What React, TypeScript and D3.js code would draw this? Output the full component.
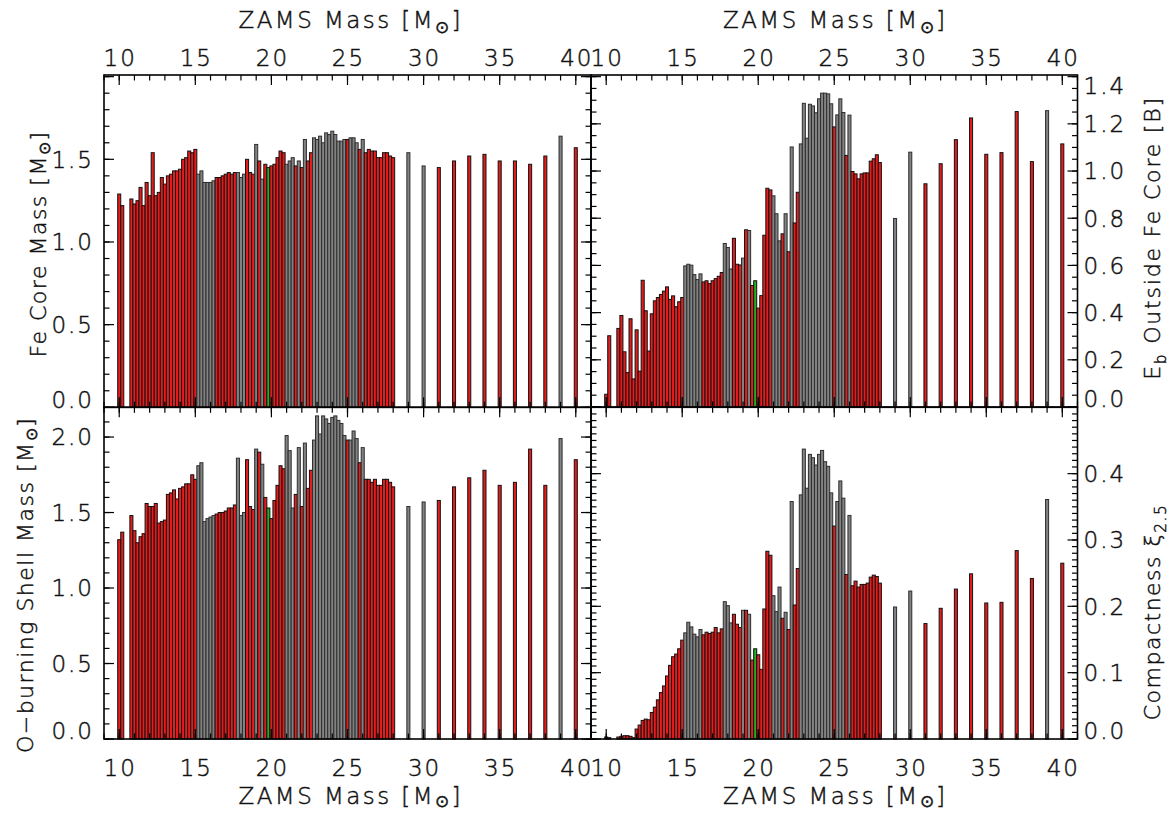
import React from 'react';
import * as d3 from 'd3';

// ZAMS masses of the models (Msun)
const masses = [
  10.0, 10.2, 10.8, 11.0, 11.2, 11.4, 11.6, 11.8, 12.0, 12.2, 12.4, 12.6, 12.8, 13.0, 13.2, 13.4, 13.6, 13.8,
  14.0, 14.2, 14.4, 14.6, 14.8, 15.0, 15.2, 15.4, 15.6, 15.8, 16.0, 16.2, 16.4, 16.6, 16.8, 17.0, 17.2, 17.4,
  17.6, 17.8, 18.0, 18.2, 18.4, 18.6, 18.8, 19.0, 19.2, 19.4, 19.6, 19.8, 20.0, 20.2, 20.4, 20.6, 20.8, 21.0,
  21.2, 21.4, 21.6, 21.8, 22.0, 22.2, 22.4, 22.6, 22.8, 23.0, 23.2, 23.4, 23.6, 23.8, 24.0, 24.2, 24.4, 24.6,
  24.8, 25.0, 25.2, 25.4, 25.6, 25.8, 26.0, 26.2, 26.4, 26.6, 26.8, 27.0, 27.2, 27.4, 27.6, 27.8, 28.0,
  29, 30, 31, 32, 33, 34, 35, 36, 37, 38, 39, 40,
];

// outcome per model: E = explodes (red), B = black hole (gray), S = special (green)
const outcome = (
  'EE' + 'EEEEEEEEEEEEEEEEEEEEEE' + 'BBBBBB' + 'EEEEEEE' + 'BBB' + 'EEE' + 'B' + 'E' + 'B' + 'E' + 'S' +
  'EEEEE' + 'BBB' + 'E' + 'B' + 'E' + 'B' + 'EE' + 'BBBBBBBBBBB' + 'E' + 'BBB' + 'E' + 'B' + 'EEEEEEEEEE' +
  'BB' + 'EEEEEEEE' + 'B' + 'E'
).split('');

// Fe core mass [Msun]
const feCoreMass = [
  1.29, 1.22, 1.26, 1.23, 1.25, 1.33, 1.22, 1.36, 1.28, 1.54, 1.28, 1.30, 1.39, 1.35, 1.40, 1.41, 1.43, 1.43,
  1.44, 1.50, 1.51, 1.55, 1.54, 1.56, 1.41, 1.43, 1.36, 1.36, 1.36, 1.37, 1.39, 1.39, 1.40, 1.41, 1.42, 1.41,
  1.42, 1.42, 1.39, 1.41, 1.50, 1.42, 1.41, 1.59, 1.49, 1.38, 1.47, 1.45, 1.46, 1.47, 1.51, 1.55, 1.54, 1.47,
  1.49, 1.51, 1.46, 1.49, 1.45, 1.62, 1.49, 1.54, 1.63, 1.62, 1.64, 1.60, 1.66, 1.65, 1.67, 1.65, 1.61, 1.61,
  1.62, 1.62, 1.63, 1.63, 1.60, 1.56, 1.62, 1.54, 1.56, 1.55, 1.55, 1.51, 1.51, 1.54, 1.54, 1.52, 1.51,
  1.54, 1.46, 1.45, 1.49, 1.52, 1.53, 1.49, 1.49, 1.47, 1.52, 1.64, 1.57,
];

// binding energy outside the Fe core [B]
const bindingEnergy = [
  0.054, 0.302, 0.333, 0.388, 0.234, 0.146, 0.374, 0.119, 0.327, 0.152, 0.537, 0.408, 0.237, 0.395, 0.450, 0.464, 0.477, 0.491,
  0.509, 0.456, 0.471, 0.425, 0.446, 0.464, 0.598, 0.605, 0.601, 0.561, 0.540, 0.564, 0.530, 0.535, 0.523, 0.535, 0.544, 0.554,
  0.570, 0.693, 0.676, 0.585, 0.715, 0.605, 0.602, 0.631, 0.751, 0.748, 0.515, 0.535, 0.419, 0.472, 0.728, 0.927, 0.920, 0.895,
  0.819, 0.704, 0.734, 0.819, 0.658, 1.102, 0.780, 0.910, 1.115, 1.287, 1.139, 1.283, 1.276, 1.247, 1.306, 1.330, 1.330, 1.327,
  1.285, 1.187, 1.238, 1.306, 1.248, 1.066, 1.237, 0.998, 0.988, 0.967, 0.988, 0.992, 0.992, 1.042, 1.052, 1.069, 1.036,
  0.799, 1.080, 0.946, 1.031, 1.133, 1.225, 1.071, 1.078, 1.252, 1.040, 1.256, 1.115,
];

// O-burning shell mass [Msun]
const oShellMass = [
  1.32, 1.37, 1.48, 1.38, 1.30, 1.34, 1.36, 1.56, 1.54, 1.54, 1.56, 1.43, 1.44, 1.45, 1.62, 1.63, 1.65, 1.59,
  1.66, 1.67, 1.69, 1.69, 1.75, 1.72, 1.81, 1.83, 1.44, 1.46, 1.47, 1.48, 1.49, 1.50, 1.50, 1.51, 1.53, 1.53,
  1.55, 1.86, 1.48, 1.50, 1.85, 1.54, 1.52, 1.92, 1.90, 1.82, 1.60, 1.53, 1.46, 1.58, 1.68, 1.81, 1.79, 2.01,
  1.91, 1.53, 1.62, 1.93, 1.54, 1.96, 1.66, 1.78, 1.98, 2.14, 2.02, 2.14, 2.12, 2.09, 2.13, 2.14, 2.11, 2.09,
  2.01, 1.98, 1.98, 2.04, 1.99, 1.83, 1.93, 1.72, 1.72, 1.70, 1.72, 1.68, 1.68, 1.72, 1.72, 1.70, 1.67,
  1.54, 1.57, 1.58, 1.67, 1.73, 1.78, 1.68, 1.70, 1.92, 1.68, 1.99, 1.85,
];

// compactness xi_2.5
const compactness = [
  0.003, 0.002, 0.003, 0.004, 0.005, 0.005, 0.004, 0.002, 0.015, 0.021, 0.028, 0.030, 0.029, 0.040, 0.048, 0.059, 0.070, 0.080,
  0.095, 0.111, 0.124, 0.128, 0.136, 0.149, 0.160, 0.176, 0.169, 0.158, 0.154, 0.165, 0.157, 0.161, 0.159, 0.161, 0.168, 0.160,
  0.166, 0.207, 0.201, 0.175, 0.188, 0.173, 0.168, 0.194, 0.194, 0.188, 0.119, 0.136, 0.127, 0.105, 0.196, 0.283, 0.277, 0.216,
  0.192, 0.229, 0.182, 0.191, 0.165, 0.358, 0.202, 0.257, 0.368, 0.437, 0.378, 0.429, 0.424, 0.413, 0.429, 0.435, 0.418, 0.411,
  0.371, 0.321, 0.358, 0.389, 0.363, 0.248, 0.337, 0.231, 0.238, 0.229, 0.233, 0.233, 0.235, 0.244, 0.247, 0.245, 0.235,
  0.199, 0.223, 0.174, 0.197, 0.226, 0.249, 0.205, 0.206, 0.284, 0.242, 0.361, 0.265,
];

const xTickLabels = [10, 15, 20, 25, 30, 35, 40];

const FONT = "'DejaVu Sans', 'Liberation Sans', sans-serif";
const FILL: Record<string, string> = { E: '#e81c1c', B: '#828282', S: '#22b022' };
const EDGE: Record<string, string> = { E: '#111', B: '#2e2e2e', S: '#111' };

type Spec = {
  key: string;
  left: number; right: number; top: number; bottom: number;
  yMax: number; yMajor: number; yMinor: number;
  yLabels: number[];
  ySide: 'left' | 'right';
  xSide: 'top' | 'bottom';
  values: number[];
};

const specs: Spec[] = [
  { key: 'fe', left: 104, right: 591, top: 75, bottom: 407.3, yMax: 2.01, yMajor: 0.5, yMinor: 0.1,
    yLabels: [0, 0.5, 1.0, 1.5], ySide: 'left', xSide: 'top', values: feCoreMass },
  { key: 'eb', left: 591, right: 1077.5, top: 75, bottom: 407, yMax: 1.407, yMajor: 0.2, yMinor: 0.05,
    yLabels: [0, 0.2, 0.4, 0.6, 0.8, 1.0, 1.2, 1.4], ySide: 'right', xSide: 'top', values: bindingEnergy },
  { key: 'os', left: 104, right: 591, top: 407.3, bottom: 739, yMax: 2.197, yMajor: 0.5, yMinor: 0.1,
    yLabels: [0, 0.5, 1.0, 1.5, 2.0], ySide: 'left', xSide: 'bottom', values: oShellMass },
  { key: 'xi', left: 591, right: 1077.5, top: 407.3, bottom: 739, yMax: 0.5, yMajor: 0.1, yMinor: 0.01,
    yLabels: [0, 0.1, 0.2, 0.3, 0.4], ySide: 'right', xSide: 'bottom', values: compactness },
];

const TXT = { fontFamily: FONT, fontWeight: 300, fill: '#111', stroke: '#111', strokeWidth: 0.45 } as const;

function Panel({ s }: { s: Spec }) {
  const x = d3.scaleLinear().domain([9, 41]).range([s.left, s.right]);
  const y = d3.scaleLinear().domain([0, s.yMax]).range([s.bottom, s.top]);
  const bw = x(9.2) - x(9);
  const minorY = d3.range(0, s.yMax + 1e-9, s.yMinor);
  const majorY = d3.range(0, s.yMax + 1e-9, s.yMajor);
  const minorX = d3.range(9, 41.001, 1);
  const majorX = d3.range(10, 40.001, 5);
  const TMaj = 10, TMin = 5.5;
  const fmt = d3.format('.1f');
  return (
    <g>
      {masses.map((m, i) => {
        const v = s.values[i];
        const o = outcome[i];
        return (
          <rect key={i} x={x(m) - bw / 2} y={y(v)} width={bw} height={y(0) - y(v)}
            fill={FILL[o]} stroke={EDGE[o]} strokeWidth={1} />
        );
      })}
      {minorY.map((t, i) => (
        <g key={'ym' + i} stroke="#000" strokeWidth={1.2}>
          <line x1={s.left} x2={s.left + TMin} y1={y(t)} y2={y(t)} />
          <line x1={s.right} x2={s.right - TMin} y1={y(t)} y2={y(t)} />
        </g>
      ))}
      {majorY.map((t, i) => (
        <g key={'yM' + i} stroke="#000" strokeWidth={1.2}>
          <line x1={s.left} x2={s.left + TMaj} y1={y(t)} y2={y(t)} />
          <line x1={s.right} x2={s.right - TMaj} y1={y(t)} y2={y(t)} />
        </g>
      ))}
      {minorX.map((t, i) => (
        <g key={'xm' + i} stroke="#000" strokeWidth={1.2}>
          <line x1={x(t)} x2={x(t)} y1={s.bottom} y2={s.bottom - TMin} />
          <line x1={x(t)} x2={x(t)} y1={s.top} y2={s.top + TMin} />
        </g>
      ))}
      {majorX.map((t, i) => (
        <g key={'xM' + i} stroke="#000" strokeWidth={1.2}>
          <line x1={x(t)} x2={x(t)} y1={s.bottom} y2={s.bottom - TMaj} />
          <line x1={x(t)} x2={x(t)} y1={s.top} y2={s.top + TMaj} />
        </g>
      ))}
      <rect x={s.left} y={s.top} width={s.right - s.left} height={s.bottom - s.top}
        fill="none" stroke="#000" strokeWidth={1.6} />
      {s.yLabels.map((t, i) => {
        let yy = y(t);
        if (t === 0) yy -= 8;
        if (Math.abs(y(t) - s.top) < 3) yy += 9;
        return (
          <text key={'yl' + i} x={s.ySide === 'left' ? s.left - 10 : s.right + 6} y={yy} dy="0.36em"
            textAnchor={s.ySide === 'left' ? 'end' : 'start'} fontSize={23} {...TXT} letterSpacing={2}>
            {fmt(t)}
          </text>
        );
      })}
      {xTickLabels.map((t, i) => (
        <text key={'xl' + i} x={x(t) + 1} y={s.xSide === 'top' ? 66 : 776} textAnchor="middle"
          fontSize={23} {...TXT} letterSpacing={2}>
          {t}
        </text>
      ))}
    </g>
  );
}

function MSun({ d = 5 }: { d?: number }) {
  return (
    <>
      <tspan>[M</tspan>
      <tspan dy={d} fontSize="0.72em">⊙</tspan>
      <tspan dy={-d}>]</tspan>
    </>
  );
}

export default function App() {
  return (
    <svg width={1169} height={815} style={{ position: 'absolute', left: 0, top: 0, background: '#fff' }}>
      <rect width={1169} height={815} fill="#fff" />
      {specs.map((s) => <Panel key={s.key} s={s} />)}

      {/* x axis titles */}
      <text x={349.5} y={28} textAnchor="middle" fontSize={23} {...TXT} textLength={222} lengthAdjust="spacing">
        ZAMS Mass <MSun />
      </text>
      <text x={834} y={28} textAnchor="middle" fontSize={23} {...TXT} textLength={222} lengthAdjust="spacing">
        ZAMS Mass <MSun />
      </text>
      <text x={349.5} y={804} textAnchor="middle" fontSize={23} {...TXT} textLength={222} lengthAdjust="spacing">
        ZAMS Mass <MSun d={3} />
      </text>
      <text x={834} y={804} textAnchor="middle" fontSize={23} {...TXT} textLength={222} lengthAdjust="spacing">
        ZAMS Mass <MSun d={3} />
      </text>

      {/* left y titles */}
      <text transform="translate(46,244) rotate(-90)" textAnchor="middle" fontSize={22} {...TXT} letterSpacing={1.5}>
        Fe Core Mass <MSun d={4} />
      </text>
      <text transform="translate(33,585) rotate(-90)" textAnchor="middle" fontSize={22} {...TXT} letterSpacing={1.5}>
        O−burning Shell Mass <MSun d={4} />
      </text>

      {/* right y titles */}
      <text transform="translate(1160,238) rotate(-90)" textAnchor="middle" fontSize={22} {...TXT} letterSpacing={1.8}>
        E<tspan dy={6} fontSize="0.7em">b</tspan><tspan dy={-6}> Outside Fe Core [B]</tspan>
      </text>
      <text transform="translate(1160,612) rotate(-90)" textAnchor="middle" fontSize={22} {...TXT} letterSpacing={1.5}>
        Compactness ξ<tspan dy={6} fontSize="0.7em">2.5</tspan>
      </text>
    </svg>
  );
}
